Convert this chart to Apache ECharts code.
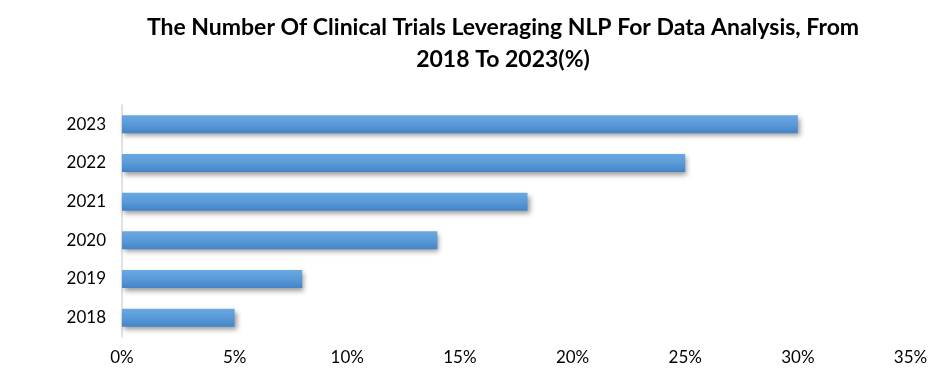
<!DOCTYPE html>
<html><head><meta charset="utf-8">
<script src="https://cdn.jsdelivr.net/npm/echarts@6/dist/echarts.min.js"></script>
<style>html,body{margin:0;padding:0;background:#fff}#c{width:939px;height:392px}</style>
</head><body><div id="c"></div>
<script>
const categories = ['2018','2019','2020','2021','2022','2023'];
const values = [5, 8, 14, 18, 25, 30];
const titleText = 'The Number Of Clinical Trials Leveraging NLP For Data Analysis, From\n2018 To 2023(%)';

const chart = echarts.init(document.getElementById('c'));
chart.setOption({
  animation: false,
  backgroundColor: '#fff',
  title: {
    text: titleText,
    left: 498, top: 7, textAlign: 'center',
    textStyle: { fontFamily: 'Lato', fontWeight: 'bold', fontSize: 23, color: '#000', lineHeight: 32 }
  },
  grid: { left: 122, right: 28.5, top: 105, bottom: 55 },
  xAxis: {
    type: 'value', min: 0, max: 35, interval: 5,
    axisLine: { show: false }, axisTick: { show: false }, splitLine: { show: false },
    axisLabel: { formatter: '{value}%', fontFamily: 'Lato', fontSize: 17, color: '#000', margin: 12 }
  },
  yAxis: {
    type: 'category', data: categories,
    axisLine: { show: true, lineStyle: { color: '#d9d9d9', width: 1.5 } },
    axisTick: { show: false },
    axisLabel: { fontFamily: 'Lato', fontSize: 17, color: '#000', margin: 16 }
  },
  series: [{
    type: 'bar', data: values, barWidth: 18,
    itemStyle: {
      color: new echarts.graphic.LinearGradient(0, 0, 0, 1, [
        { offset: 0, color: '#6aa8e2' },
        { offset: 0.5, color: '#5a9ad8' },
        { offset: 1, color: '#4384c8' }
      ]),
      shadowColor: 'rgba(0,0,0,0.4)', shadowBlur: 5, shadowOffsetX: 2, shadowOffsetY: 3
    }
  }]
});
</script></body></html>
